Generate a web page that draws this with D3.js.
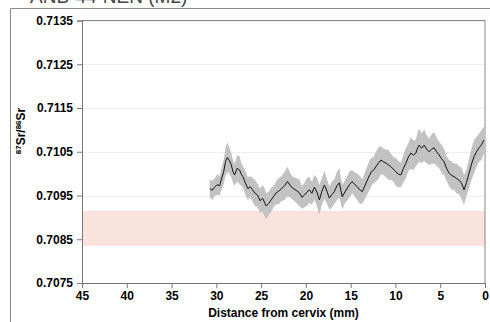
<!DOCTYPE html>
<html>
<head>
<meta charset="utf-8">
<style>
  html, body { margin: 0; padding: 0; background: #fff; }
  svg { display: block; font-family: "Liberation Sans", Arial, sans-serif; }
</style>
</head>
<body>
<script src="https://d3js.org/d3.v7.min.js"></script>
<script>

// distance from cervix (mm), Sr ratio, half-width of the grey band
var distance = [30.74, 30.46, 30.19, 29.90, 29.63, 29.40, 29.18, 28.97, 28.77, 28.55,
                28.33, 28.15, 27.96, 27.68, 27.40, 27.20, 27.03, 26.75, 26.48, 26.22,
                25.95, 25.68, 25.40, 25.12, 24.84, 24.63, 24.43, 24.15, 23.87, 23.60,
                23.32, 23.04, 22.76, 22.40, 22.06, 21.78, 21.50, 21.10, 20.72, 20.44,
                20.16, 19.88, 19.61, 19.33, 19.05, 18.77, 18.49, 18.21, 17.93, 17.65,
                17.38, 17.10, 16.82, 16.54, 16.26, 16.10, 15.93, 15.65, 15.37, 15.10,
                14.82, 14.54, 14.26, 13.98, 13.70, 13.42, 13.14, 12.92, 12.70, 12.44,
                12.18, 11.90, 11.62, 11.34, 11.06, 10.78, 10.51, 10.23, 9.95, 9.67,
                9.39, 9.11, 8.83, 8.55, 8.28, 8.00, 7.72, 7.54, 7.35, 7.08,
                6.80, 6.52, 6.24, 5.96, 5.68, 5.40, 5.13, 4.85, 4.57, 4.29,
                4.01, 3.73, 3.45, 3.18, 2.90, 2.62, 2.34, 2.06, 1.78, 1.50,
                1.23, 0.95, 0.67, 0.39, 0.11];
var ratio = [0.70966, 0.70962, 0.70969, 0.70975, 0.70972, 0.70990, 0.71004, 0.71028, 0.71037, 0.71030,
             0.71020, 0.71005, 0.70997, 0.71012, 0.71008, 0.70998, 0.70993, 0.70978, 0.70966, 0.70970,
             0.70963, 0.70955, 0.70951, 0.70938, 0.70944, 0.70935, 0.70926, 0.70932, 0.70940, 0.70948,
             0.70956, 0.70960, 0.70965, 0.70972, 0.70982, 0.70974, 0.70967, 0.70962, 0.70956, 0.70946,
             0.70951, 0.70958, 0.70963, 0.70955, 0.70969, 0.70958, 0.70940, 0.70960, 0.70974, 0.70960,
             0.70944, 0.70952, 0.70959, 0.70972, 0.70979, 0.70962, 0.70947, 0.70958, 0.70967, 0.70976,
             0.70982, 0.70975, 0.70970, 0.70963, 0.70959, 0.70972, 0.70985, 0.70995, 0.71004, 0.71008,
             0.71016, 0.71024, 0.71031, 0.71027, 0.71024, 0.71020, 0.71016, 0.71010, 0.71004, 0.70999,
             0.70997, 0.71012, 0.71024, 0.71038, 0.71047, 0.71042, 0.71047, 0.71058, 0.71065, 0.71058,
             0.71065, 0.71056, 0.71050, 0.71056, 0.71059, 0.71050, 0.71043, 0.71034, 0.71027, 0.71012,
             0.71001, 0.70996, 0.70993, 0.70989, 0.70985, 0.70978, 0.70963, 0.70980, 0.71001, 0.71022,
             0.71039, 0.71050, 0.71059, 0.71066, 0.71077];
var spread = [0.00020, 0.00022, 0.00020, 0.00024, 0.00022, 0.00026, 0.00028, 0.00032, 0.00034, 0.00030,
              0.00028, 0.00026, 0.00024, 0.00030, 0.00032, 0.00026, 0.00024, 0.00028, 0.00026, 0.00024,
              0.00027, 0.00030, 0.00026, 0.00028, 0.00030, 0.00032, 0.00030, 0.00026, 0.00028, 0.00024,
              0.00026, 0.00030, 0.00028, 0.00032, 0.00034, 0.00028, 0.00026, 0.00028, 0.00030, 0.00026,
              0.00028, 0.00032, 0.00030, 0.00026, 0.00028, 0.00032, 0.00034, 0.00030, 0.00032, 0.00028,
              0.00026, 0.00030, 0.00028, 0.00032, 0.00034, 0.00030, 0.00028, 0.00026, 0.00028, 0.00030,
              0.00026, 0.00028, 0.00030, 0.00032, 0.00028, 0.00030, 0.00032, 0.00034, 0.00032, 0.00030,
              0.00034, 0.00036, 0.00032, 0.00030, 0.00032, 0.00034, 0.00030, 0.00028, 0.00032, 0.00030,
              0.00028, 0.00032, 0.00034, 0.00032, 0.00036, 0.00034, 0.00030, 0.00036, 0.00038, 0.00034,
              0.00036, 0.00032, 0.00030, 0.00034, 0.00036, 0.00032, 0.00030, 0.00032, 0.00030, 0.00028,
              0.00030, 0.00032, 0.00030, 0.00034, 0.00032, 0.00036, 0.00034, 0.00030, 0.00034, 0.00036,
              0.00038, 0.00034, 0.00032, 0.00034, 0.00030];

var xTicks = [45, 40, 35, 30, 25, 20, 15, 10, 5, 0];
var yTicks = [0.7075, 0.7085, 0.7095, 0.7105, 0.7115, 0.7125, 0.7135];
var baseline = [0.70835, 0.70915];   // local range (pink band)

var width = 490, height = 322;
var margin = {left: 82, right: 5, top: 20.5, bottom: 39};

var svg = d3.select('body').append('svg')
    .attr('width', width)
    .attr('height', height);

var x = d3.scaleLinear().domain([45, 0]).range([margin.left, width - margin.right]);
var y = d3.scaleLinear().domain([0.7075, 0.7135]).range([height - margin.bottom, margin.top]);

// title, mostly cut off at the top
svg.append('text')
    .attr('x', 30).attr('y', 3)
    .attr('font-size', 19)
    .attr('fill', '#444')
    .text('ANB-44-NEN (M2)');

// outer chart frame
svg.append('path')
    .attr('d', 'M10.5,' + height + 'V8.5H' + width)
    .attr('fill', 'none')
    .attr('stroke', '#8a8a8a');

// gridlines
svg.append('g').selectAll('line')
    .data(yTicks.slice(1))
    .join('line')
    .attr('x1', x(45)).attr('x2', x(0))
    .attr('y1', function(d) { return Math.round(y(d)) + 0.5; })
    .attr('y2', function(d) { return Math.round(y(d)) + 0.5; })
    .attr('stroke', '#efefef');

// baseline band
svg.append('rect')
    .attr('x', x(45)).attr('width', x(0) - x(45))
    .attr('y', y(baseline[1])).attr('height', y(baseline[0]) - y(baseline[1]))
    .attr('fill', '#fae3dc');

var pts = distance.map(function(d, i) { return {d: d, v: ratio[i], e: spread[i]}; });

var band = d3.area()
    .x(function(p) { return x(p.d); })
    .y0(function(p) { return y(p.v - p.e); })
    .y1(function(p) { return y(p.v + p.e); });

svg.append('path')
    .datum(pts)
    .attr('d', band)
    .attr('fill', '#c2c2c2');

var line = d3.line()
    .x(function(p) { return x(p.d); })
    .y(function(p) { return y(p.v); });

svg.append('path')
    .datum(pts)
    .attr('d', line)
    .attr('fill', 'none')
    .attr('stroke', '#111')
    .attr('stroke-width', 1);

// plot border (top and right)
svg.append('path')
    .attr('d', 'M' + x(45) + ',' + y(0.7135) + 'H' + x(0) + 'V' + y(0.7075))
    .attr('fill', 'none')
    .attr('stroke', '#888');

// axes
var yAxis = svg.append('g')
    .attr('transform', 'translate(' + x(45) + ',0)')
    .call(d3.axisLeft(y).tickValues(yTicks).tickFormat(d3.format('.4f')).tickSize(5).tickPadding(4));

var xAxis = svg.append('g')
    .attr('transform', 'translate(0,' + y(0.7075) + ')')
    .call(d3.axisBottom(x).tickValues(xTicks).tickFormat(d3.format('d')).tickSize(5).tickPadding(3));

[xAxis, yAxis].forEach(function(g) {
  g.selectAll('path, line').attr('stroke', '#777');
  g.selectAll('text')
      .attr('fill', '#000')
      .attr('font-size', 12)
      .attr('font-weight', 'bold')
      .attr('font-family', '"Liberation Sans", Arial, sans-serif');
});

// axis titles
svg.append('text')
    .attr('x', (x(45) + x(0)) / 2)
    .attr('y', 317)
    .attr('text-anchor', 'middle')
    .attr('font-size', 12)
    .attr('font-weight', 'bold')
    .text('Distance from cervix (mm)');

var yl = svg.append('text')
    .attr('transform', 'translate(25,' + 131 + ') rotate(-90)')
    .attr('text-anchor', 'middle')
    .attr('font-size', 12)
    .attr('font-weight', 'bold');
yl.append('tspan').attr('font-size', 8).attr('dy', -4).text('87');
yl.append('tspan').attr('dy', 4).text('Sr/');
yl.append('tspan').attr('font-size', 8).attr('dy', -4).text('86');
yl.append('tspan').attr('dy', 4).text('Sr');

</script>
</body>
</html>
